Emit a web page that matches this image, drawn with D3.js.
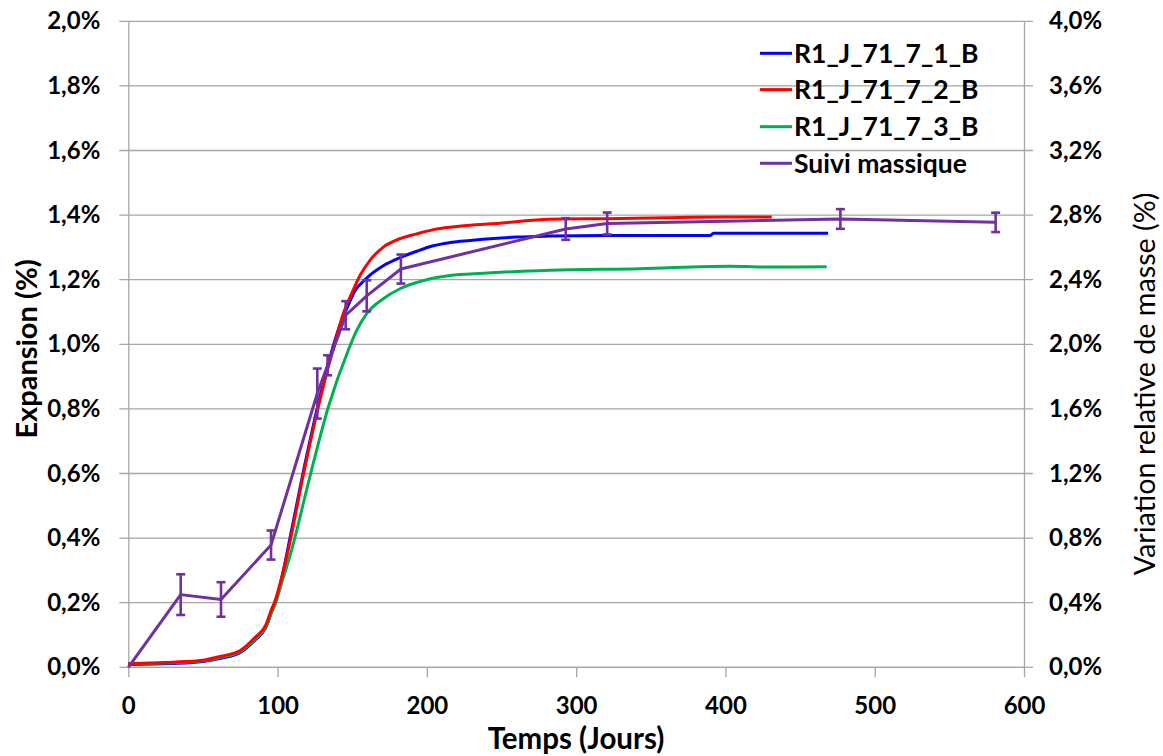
<!DOCTYPE html>
<html>
<head>
<meta charset="utf-8">
<script src="https://cdn.jsdelivr.net/npm/d3@7"></script>
<style>
  html, body { margin: 0; padding: 0; background: #fff; }
  svg { display: block; font-family: "Lato", "Open Sans", sans-serif; }
</style>
</head>
<body>
<svg id="chart" width="1163" height="756"></svg>
<script>
// ---------- data ----------
const blueDays  = [0, 30, 50, 62, 75, 85, 92, 96, 98.3, 102, 107, 117, 127, 134, 137, 141, 146.3, 151.8, 159.7, 170.8, 182, 193.2, 204.3, 215.5, 237.8, 260.1, 282.4, 320, 360, 390, 392, 430, 468.8];
const blueVals  = [0.009, 0.012, 0.018, 0.028, 0.046, 0.085, 0.122, 0.172, 0.2, 0.26, 0.37, 0.6, 0.81, 0.94, 0.99, 1.05, 1.11, 1.165, 1.205, 1.243, 1.268, 1.288, 1.305, 1.315, 1.325, 1.332, 1.335, 1.337, 1.337, 1.337, 1.344, 1.344, 1.344];

const redDays   = [0, 30, 50, 62, 75, 85, 92, 96, 98.3, 102, 107.1, 117.2, 127.3, 134, 137.3, 144, 149.6, 155.2, 161.9, 170.8, 182, 193.2, 204.3, 226.6, 249, 282.4, 320, 360, 400, 431];
const redVals   = [0.012, 0.016, 0.022, 0.034, 0.052, 0.093, 0.13, 0.18, 0.205, 0.265, 0.363, 0.595, 0.806, 0.93, 0.985, 1.095, 1.157, 1.213, 1.26, 1.301, 1.327, 1.342, 1.355, 1.368, 1.375, 1.387, 1.389, 1.392, 1.394, 1.394];

const greenDays = [0, 30, 50, 62, 75, 85, 92, 96, 98.3, 102, 109.4, 120.5, 134, 147.3, 153, 159.7, 170.8, 182, 199.8, 215.5, 237.8, 282.4, 342.7, 403, 425, 467.8];
const greenVals = [0.011, 0.014, 0.02, 0.031, 0.049, 0.088, 0.124, 0.17, 0.193, 0.25, 0.363, 0.569, 0.806, 0.981, 1.043, 1.095, 1.141, 1.172, 1.2, 1.213, 1.22, 1.229, 1.234, 1.242, 1.239, 1.24];

// Suivi massique (right axis, %)
const massDays = [0, 35.1, 62.1, 95.6, 126.6, 133.5, 145.6, 159.7, 182.6, 293, 320.8, 477, 581];
const massVals = [0, 0.45, 0.42, 0.757, 1.695, 1.87, 2.18, 2.30, 2.466, 2.714, 2.748, 2.776, 2.755];
const massErr  = [0, 0.126, 0.107, 0.09, 0.155, 0.062, 0.087, 0.096, 0.09, 0.067, 0.068, 0.061, 0.06];

const xTicks  = [0, 100, 200, 300, 400, 500, 600];
const yTicks  = [0, 0.2, 0.4, 0.6, 0.8, 1.0, 1.2, 1.4, 1.6, 1.8, 2.0];
const y2Ticks = [0, 0.4, 0.8, 1.2, 1.6, 2.0, 2.4, 2.8, 3.2, 3.6, 4.0];

const seriesNames = ["R1_J_71_7_1_B", "R1_J_71_7_2_B", "R1_J_71_7_3_B", "Suivi massique"];
const seriesColors = ["#0000FF", "#FF0000", "#00B050", "#7030A0"];

// ---------- layout ----------
const svg = d3.select("#chart");
const X0 = 128.3, X1 = 1024, Y0 = 667.3, Y1 = 21.3;
const x  = d3.scaleLinear().domain([0, 600]).range([X0, X1]);
const y  = d3.scaleLinear().domain([0, 2.0]).range([Y0, Y1]);
const y2 = d3.scaleLinear().domain([0, 4.0]).range([Y0, Y1]);
const fmt = v => v.toFixed(1).replace(".", ",") + "%";
const gridCol = "#a6a6a6";

// gridlines
svg.append("g").selectAll("line").data(yTicks).join("line")
  .attr("x1", X0 - 9).attr("x2", X1 + 9)
  .attr("y1", d => y(d)).attr("y2", d => y(d))
  .attr("stroke", gridCol).attr("stroke-width", 1.3);

// left axis
const gl = svg.append("g").attr("transform", `translate(${X0},0)`)
  .call(d3.axisLeft(y).tickValues(yTicks).tickFormat(fmt).tickSize(0).tickPadding(28));
gl.select(".domain").attr("stroke", gridCol).attr("stroke-width", 1.3);
gl.selectAll("text").attr("font-size", 24).attr("font-weight", "bold").attr("fill", "#000")
  .attr("font-family", "Lato");

// right axis
const gr = svg.append("g").attr("transform", `translate(${X1},0)`)
  .call(d3.axisRight(y2).tickValues(y2Ticks).tickFormat(fmt).tickSize(0).tickPadding(25));
gr.select(".domain").attr("stroke", gridCol).attr("stroke-width", 1.3);
gr.selectAll("text").attr("font-size", 24).attr("font-weight", "bold").attr("fill", "#000")
  .attr("font-family", "Lato");

// bottom axis
const gb = svg.append("g").attr("transform", `translate(0,${Y0})`)
  .call(d3.axisBottom(x).tickValues(xTicks).tickFormat(d3.format("d")).tickSize(10).tickPadding(20));
gb.select(".domain").remove();
gb.selectAll("line").attr("stroke", gridCol).attr("stroke-width", 1.3);
gb.selectAll("text").attr("font-size", 24).attr("font-weight", "bold").attr("fill", "#000")
  .attr("font-family", "Lato");
svg.append("line").attr("x1", X0).attr("x2", X1).attr("y1", Y0).attr("y2", Y0)
  .attr("stroke", gridCol).attr("stroke-width", 1.3);

// ---------- lines ----------
const line = d3.line().x(d => x(d[0])).y(d => y(d[1])).curve(d3.curveMonotoneX);
const strainSeries = [
  [blueDays, blueVals], [redDays, redVals], [greenDays, greenVals]
];
[0, 2, 1].forEach(i => {
  const [ds, vs] = strainSeries[i];
  svg.append("path").datum(ds.map((d, k) => [d, vs[k]]))
    .attr("d", line).attr("fill", "none")
    .attr("stroke", seriesColors[i]).attr("stroke-width", 3).attr("stroke-linejoin", "round");
});

// mass series on right axis
const massPts = massDays.map((d, k) => [d, massVals[k], massErr[k]]);
const mline = d3.line().x(d => x(d[0])).y(d => y2(d[1]));
svg.append("path").datum(massPts).attr("d", mline).attr("fill", "none")
  .attr("stroke", seriesColors[3]).attr("stroke-width", 3).attr("stroke-linejoin", "round");

const eb = svg.append("g").attr("stroke", seriesColors[3]).attr("stroke-width", 2.6);
massPts.filter(d => d[2] > 0).forEach(d => {
  const cx = x(d[0]), t = y2(d[1] + d[2]), b = y2(d[1] - d[2]);
  eb.append("line").attr("x1", cx).attr("x2", cx).attr("y1", t).attr("y2", b);
  eb.append("line").attr("x1", cx - 4.5).attr("x2", cx + 4.5).attr("y1", t).attr("y2", t);
  eb.append("line").attr("x1", cx - 4.5).attr("x2", cx + 4.5).attr("y1", b).attr("y2", b);
});

// ---------- legend ----------
const legY = [53.3, 89.6, 126.7, 163.3];
const lg = svg.append("g");
seriesNames.forEach((n, i) => {
  lg.append("line").attr("x1", 760).attr("x2", 792).attr("y1", legY[i]).attr("y2", legY[i])
    .attr("stroke", seriesColors[i]).attr("stroke-width", 3);
  lg.append("text").attr("x", 794).attr("y", legY[i]).attr("dy", "0.36em")
    .attr("font-size", 26.5).attr("font-weight", "bold").attr("font-family", "Lato").text(n);
});

// ---------- titles ----------
svg.append("text").attr("transform", `translate(37,349) rotate(-90)`)
  .attr("text-anchor", "middle").attr("font-size", 29).attr("font-weight", "bold")
  .attr("font-family", "Lato").text("Expansion (%)");
svg.append("text").attr("transform", `translate(1155,384) rotate(-90)`)
  .attr("text-anchor", "middle").attr("font-size", 28.7)
  .attr("font-family", "Lato").text("Variation relative de masse (%)");
svg.append("text").attr("x", 576).attr("y", 749)
  .attr("text-anchor", "middle").attr("font-size", 29.5).attr("font-weight", "bold")
  .attr("font-family", "Lato").text("Temps (Jours)");
</script>
</body>
</html>
